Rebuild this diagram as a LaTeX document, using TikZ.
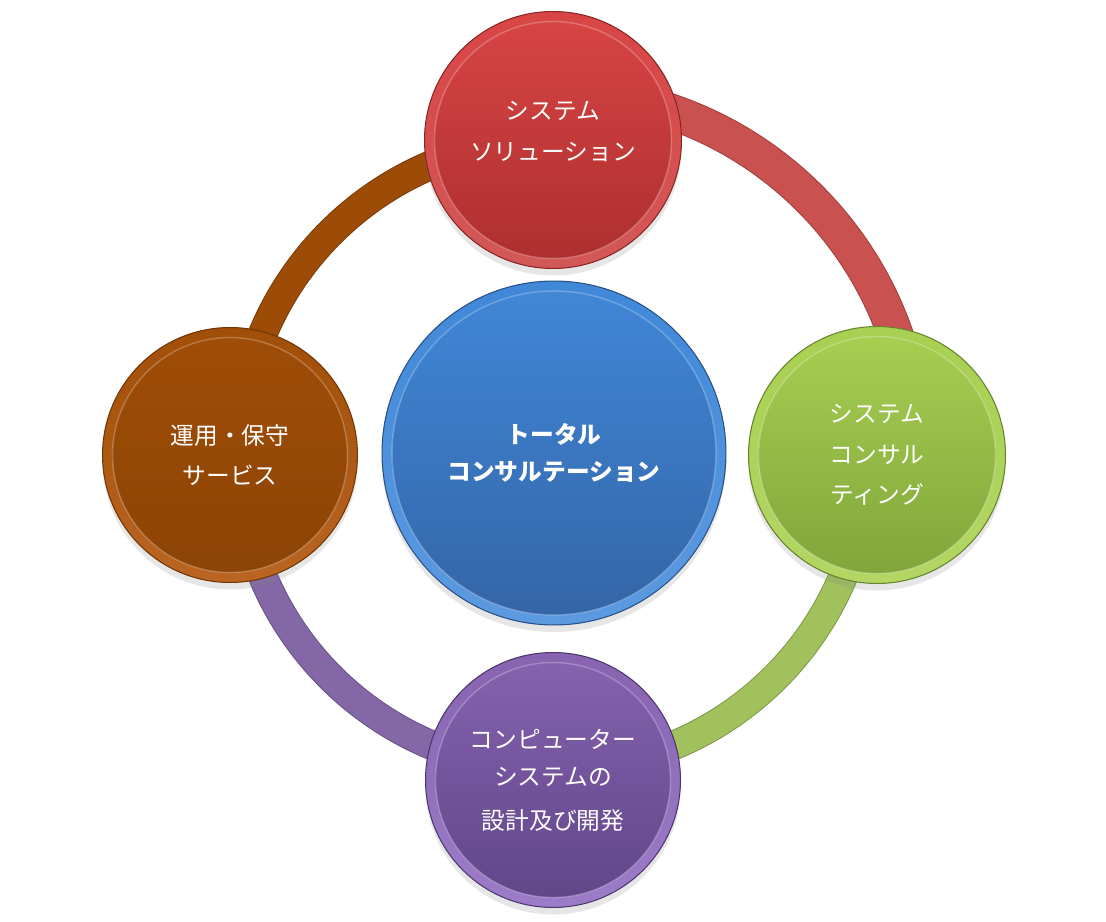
\documentclass[tikz,border=0pt]{standalone}
\usepackage{fontspec}
\setmainfont{Noto Sans CJK JP}
\usetikzlibrary{shadows}

\definecolor{redtop}{HTML}{D94545}
\definecolor{redbot}{HTML}{AC2E2E}
\definecolor{redrim}{HTML}{D25858}
\definecolor{greentop}{HTML}{A8D052}
\definecolor{greenbot}{HTML}{7FA43A}
\definecolor{greenrim}{HTML}{B3D664}
\definecolor{orangetop}{HTML}{A04E08}
\definecolor{orangebot}{HTML}{8C4304}
\definecolor{orangerim}{HTML}{BA6522}
\definecolor{purpletop}{HTML}{8763B0}
\definecolor{purplebot}{HTML}{5F4588}
\definecolor{purplerim}{HTML}{9C7CC9}
\definecolor{bluetop}{HTML}{4088D8}
\definecolor{bluebot}{HTML}{3464A6}
\definecolor{bluerim}{HTML}{5C9AE0}
\definecolor{arcred}{HTML}{C9514F}
\definecolor{arcgreen}{HTML}{A0C15B}
\definecolor{arcorange}{HTML}{9C4C06}
\definecolor{arcpurple}{HTML}{8467A6}

\begin{document}
\begin{tikzpicture}[x=0.02cm,y=0.02cm,
  ball/.style n args={4}{circle,minimum size=2*#1,inner sep=0pt,align=center,text=white,
    top color=#2,bottom color=#4,draw=#3!80!black,line width=0.6pt,
    font=\fontsize{13.5}{23}\selectfont,
    drop shadow={opacity=0.2,shadow xshift=0pt,shadow yshift=-4pt},
    path picture={
      \shade[top color=#2,bottom color=#3] (path picture bounding box.center) circle (#1-0.2cm);
      \draw[white,opacity=0.25,line width=0.8pt] (path picture bounding box.center) circle (#1-0.2cm);}},
  ringarc/.style={draw=#1!80!black,double=#1,line width=0.6pt,double distance=0.55cm}]

  \useasboundingbox (0,0) rectangle (1106,921);
  \coordinate (ctr) at (553,466);

  \draw[ringarc=arcred,double distance=0.68cm] ([shift={(0:7.26cm)}]ctr) arc (0:90:7.26cm);
  \draw[ringarc=arcgreen] ([shift={(-90:6.29cm)}]ctr) arc (-90:0:6.29cm);
  \draw[ringarc=arcpurple] ([shift={(180:6.29cm)}]ctr) arc (180:270:6.29cm);
  \draw[ringarc=arcorange] ([shift={(90:6.29cm)}]ctr) arc (90:180:6.29cm);

  \node[ball={2.57cm}{redtop}{redbot}{redrim},text depth=10.5pt] (sol) at (553,781) {システム\\ソリューション};
  \node[ball={2.57cm}{greentop}{greenbot}{greenrim}] (cons) at (877,466) {システム\\コンサル\\ティング};
  \node[ball={2.55cm}{orangetop}{orangebot}{orangerim}] (ops) at (230,466) {運用・保守\\サービス};
  \node[ball={2.55cm}{purpletop}{purplebot}{purplerim}] (dev) at (553,141)
    {コンピューター\\[-2pt]システムの\\[2pt]設計及び開発};
  \node[ball={3.44cm}{bluetop}{bluebot}{bluerim},font=\bfseries\fontsize{13.5}{21}\selectfont] (total) at (554,468)
    {トータル\\コンサルテーション};
\end{tikzpicture}
\end{document}
